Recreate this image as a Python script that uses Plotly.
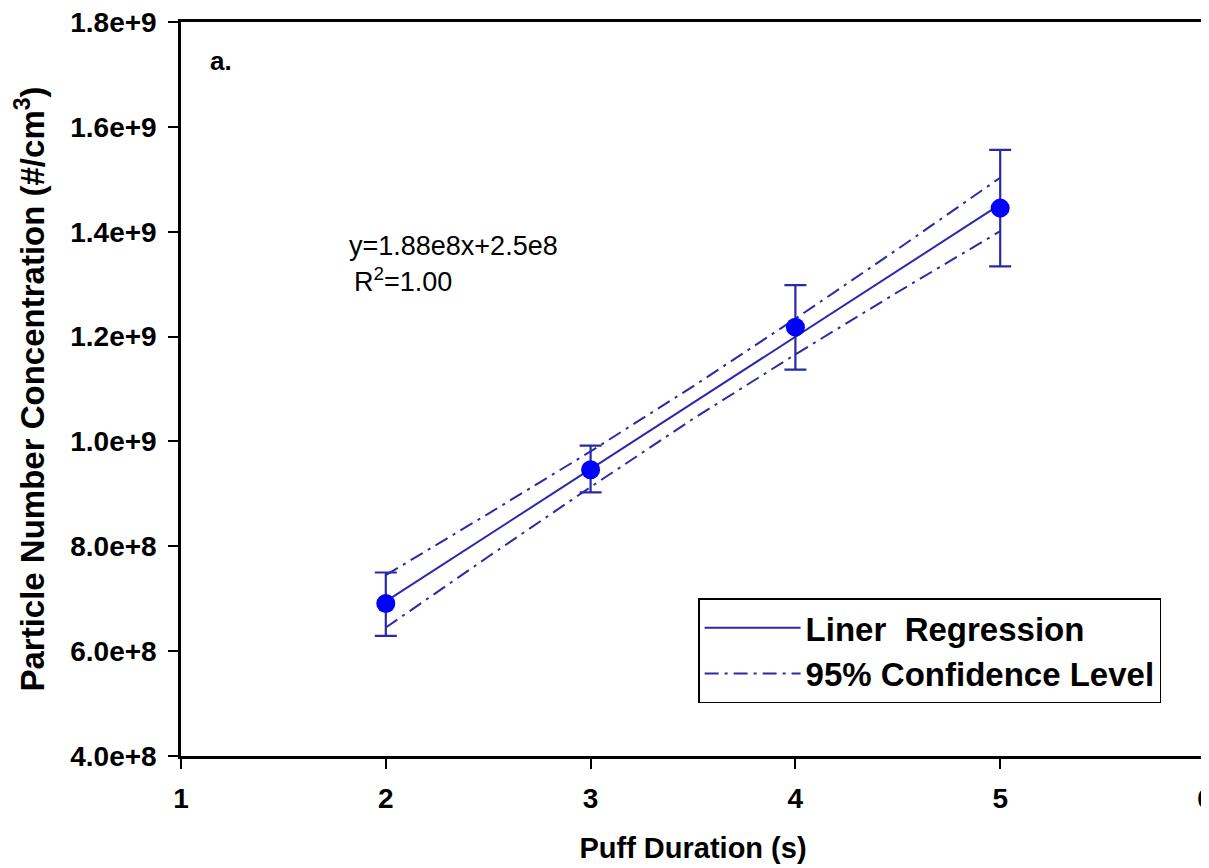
import plotly.graph_objects as go

# ---- data ----
puff_duration = [2, 3, 4, 5]
pnc_mean = [6.91e8, 9.46e8, 1.218e9, 1.445e9]
err_top = [7.50e8, 9.92e8, 1.298e9, 1.556e9]
err_bottom = [6.29e8, 9.03e8, 1.137e9, 1.334e9]

fit_x = [2, 5]
fit_y = [6.95e8, 1.452e9]

ci_x = [2, 2.5, 3, 3.5, 4, 4.5, 5]
ci_upper = [7.45e8, 8.62e8, 9.81e8, 1.105e9, 1.234e9, 1.367e9, 1.503e9]
ci_lower = [6.45e8, 7.80e8, 9.13e8, 1.043e9, 1.166e9, 1.285e9, 1.401e9]

x_ticks = [1, 2, 3, 4, 5, 6]
y_tickvals = [4e8, 6e8, 8e8, 1e9, 1.2e9, 1.4e9, 1.6e9, 1.8e9]
y_ticktext = ["4.0e+8", "6.0e+8", "8.0e+8", "1.0e+9", "1.2e+9", "1.4e+9", "1.6e+9", "1.8e+9"]

FONT = "Liberation Sans, Arial, sans-serif"
LINE_COLOR = "#2a2aa8"

err_plus = [t - m for t, m in zip(err_top, pnc_mean)]
err_minus = [m - b for m, b in zip(pnc_mean, err_bottom)]

fig = go.Figure()

fig.add_trace(go.Scatter(
    x=fit_x, y=fit_y, mode="lines", name="Liner  Regression",
    line=dict(color=LINE_COLOR, width=2),
))

fig.add_trace(go.Scatter(
    x=ci_x + [None] + ci_x, y=ci_upper + [None] + ci_lower,
    mode="lines", name="95% Confidence Level", connectgaps=False,
    line=dict(color=LINE_COLOR, width=2, dash="14px,6px,3px,6px"),
))

fig.add_trace(go.Scatter(
    x=puff_duration, y=pnc_mean, mode="markers", showlegend=False,
    marker=dict(color="#0000ff", size=19, line=dict(width=0)),
    error_y=dict(type="data", symmetric=False, array=err_plus, arrayminus=err_minus,
                 color=LINE_COLOR, thickness=2.2, width=11),
))

fig.add_annotation(x=1.13, y=1.726e9, text="a.", showarrow=False,
                   xanchor="left", yanchor="middle",
                   font=dict(family=FONT, size=26, color="black", weight="bold"))
fig.add_annotation(x=1.81, y=1.373e9, text="y=1.88e8x+2.5e8", showarrow=False,
                   xanchor="left", yanchor="middle",
                   font=dict(family=FONT, size=27, color="black"))
fig.add_annotation(x=1.834, y=1.307e9, text="R<sup>2</sup>=1.00", showarrow=False,
                   xanchor="left", yanchor="middle",
                   font=dict(family=FONT, size=27, color="black"))

# page body has an 8px margin, so the figure is laid out 8px smaller / shifted
fig.update_layout(
    width=1201, height=860,
    margin=dict(l=173, r=4, t=14, b=112),
    paper_bgcolor="white", plot_bgcolor="white",
    font=dict(family=FONT, color="black"),
    legend=dict(
        x=0.505, y=0.215, xanchor="left", yanchor="top",
        bordercolor="black", borderwidth=1.5, bgcolor="white",
        font=dict(family=FONT, size=33, color="black", weight="bold"),
        itemwidth=96, tracegroupgap=0,
    ),
)

fig.update_xaxes(
    range=[1, 6], tickvals=x_ticks, ticks="outside", ticklen=10, tickwidth=2,
    tickcolor="black", showline=True, linewidth=2.5, linecolor="black", mirror=True,
    showgrid=False, zeroline=False, automargin=False, ticklabeloverflow="allow",
    ticklabelstandoff=6,
    tickfont=dict(family=FONT, size=28, color="black", weight="bold"),
    title=dict(text="Puff Duration (s)", standoff=25,
               font=dict(family=FONT, size=29, color="black", weight="bold")),
)
fig.update_yaxes(
    range=[4e8, 1.8e9], tickvals=y_tickvals, ticktext=y_ticktext,
    ticks="outside", ticklen=10, tickwidth=2,
    tickcolor="black", showline=True, linewidth=2.5, linecolor="black", mirror=True,
    showgrid=False, zeroline=False, automargin=False, ticklabeloverflow="allow",
    ticklabelstandoff=6,
    tickfont=dict(family=FONT, size=28, color="black", weight="bold"),
    title=dict(text="Particle Number Concentration (#/cm<sup>3</sup>)", standoff=16,
               font=dict(family=FONT, size=33, color="black", weight="bold")),
)

fig.write_html("out.html")
